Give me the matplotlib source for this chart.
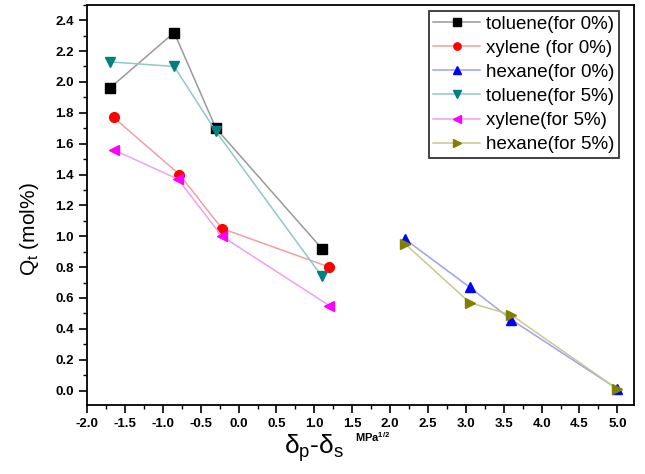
import matplotlib.pyplot as plt
from matplotlib.ticker import MultipleLocator

plt.rcParams['font.family'] = ['Liberation Sans', 'DejaVu Sans']
plt.rcParams['axes.unicode_minus'] = False
plt.rcParams['mathtext.fontset'] = 'custom'
plt.rcParams['mathtext.rm'] = 'Liberation Sans'

x_solv = [-1.7, -0.85, -0.3, 1.1]
x_xyl = [-1.65, -0.78, -0.22, 1.2]
x_xyl5 = [-1.65, -0.8, -0.22, 1.2]
x_hex = [2.2, 3.05, 3.6, 5.0]

tol0 = [1.96, 2.32, 1.70, 0.92]
xyl0 = [1.77, 1.40, 1.05, 0.80]
hex0 = [0.98, 0.67, 0.46, 0.01]
tol5 = [2.13, 2.10, 1.68, 0.74]
xyl5 = [1.56, 1.37, 1.00, 0.55]
hex5 = [0.95, 0.57, 0.49, 0.01]

fig = plt.figure(figsize=(6.45, 4.74), dpi=100)
ax = fig.add_axes([0.135, 0.145, 0.848, 0.845])

series = [
    (x_solv, tol0, 's', 'black', '#9a9a9a', 'toluene(for 0%)'),
    (x_xyl, xyl0, 'o', 'red', '#f0a0a0', 'xylene (for 0%)'),
    (x_hex, hex0, '^', 'blue', '#a0a0f0', 'hexane(for 0%)'),
    (x_solv, tol5, 'v', '#008080', '#90c8c8', 'toluene(for 5%)'),
    (x_xyl5, xyl5, '<', 'magenta', '#f0a0f0', 'xylene(for 5%)'),
    (x_hex, hex5, '>', '#808000', '#c8c890', 'hexane(for 5%)'),
]
for xs, ys, m, c, lc, lab in series:
    ax.plot(xs, ys, color=lc, lw=1.1, marker=m, ms=7, mfc=c, mec=c, label=lab)

ax.set_xlim(-2.0, 5.22)
ax.set_ylim(-0.095, 2.5)
ax.xaxis.set_minor_locator(MultipleLocator(0.25))
ax.yaxis.set_minor_locator(MultipleLocator(0.1))
ax.set_xticks([i * 0.5 - 2 for i in range(15)])
ax.set_yticks([i * 0.2 for i in range(13)])
ax.tick_params(which='major', direction='out', length=6, width=1.2, labelsize=9.5)
ax.tick_params(which='minor', direction='out', length=3, width=1.0)
for lbl in ax.get_xticklabels() + ax.get_yticklabels():
    lbl.set_fontweight('bold')
for s in ax.spines.values():
    s.set_linewidth(1.3)

ax.set_ylabel(r'Q$_{\mathregular{t}}$ (mol%)', fontsize=15)
ax.yaxis.set_label_coords(-0.085, 0.44)
fig.text(0.44, 0.022, r'δ$_{\mathregular{p}}$-δ$_{\mathregular{s}}$', fontsize=19, ha='left', va='bottom')
fig.text(0.55, 0.063, r'MPa$^{\mathregular{1/2}}$', fontsize=8, fontweight='bold', ha='left', va='bottom')

leg = ax.legend(loc='upper right', bbox_to_anchor=(619 / 645, 1 - 11 / 474),
                bbox_transform=fig.transFigure, fontsize=13.5, frameon=True, fancybox=False,
                edgecolor='black', borderpad=0.25, labelspacing=0.37, markerscale=0.75,
                handlelength=2.5, handletextpad=0.3, borderaxespad=0)
leg.get_frame().set_linewidth(1.3)

fig.savefig('out.png', dpi=100)
